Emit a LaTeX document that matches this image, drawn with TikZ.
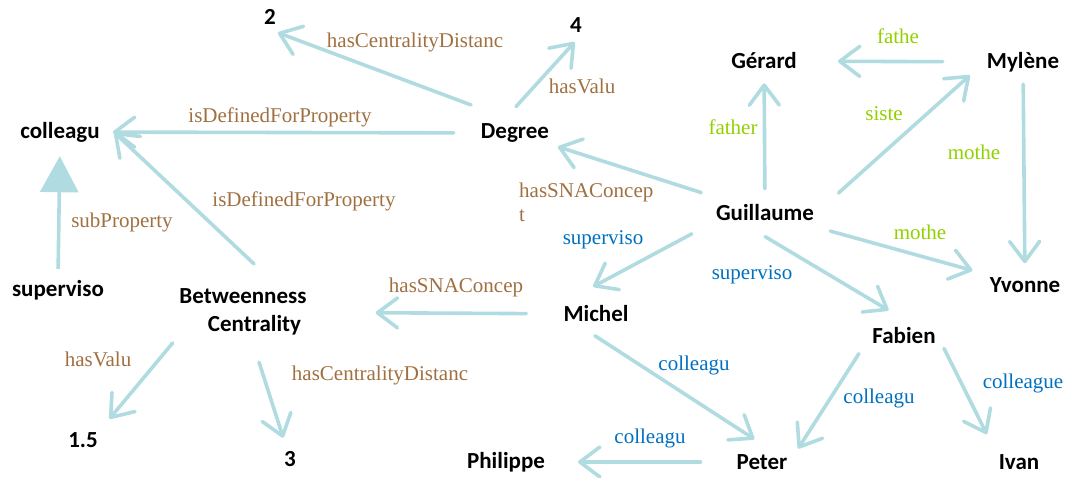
\documentclass[tikz,border=0pt]{standalone}
\usepackage{fontspec}
\setmainfont{Liberation Serif}
\newfontfamily\nodefont{Carlito}
\usetikzlibrary{arrows.meta}
\definecolor{relcol}{RGB}{176,220,225}
\definecolor{brn}{RGB}{160,112,64}
\definecolor{grn}{RGB}{146,208,0}
\definecolor{blu}{RGB}{0,112,192}
\tikzset{>/.tip={Straight Barb[round,length=20pt,width=30pt]},
  ent/.style={font=\nodefont\bfseries\fontsize{23}{28}\selectfont, inner sep=2pt},
  rel/.style={draw=relcol, line width=3.6pt, line cap=round, ->},
  sub/.style={draw=relcol, line width=3.6pt, -{Triangle[length=36pt,width=38pt]}},
  lbl/.style={font=\fontsize{21}{24}\selectfont, inner sep=0pt},
  lb/.style={lbl, text=brn},
  lg/.style={lbl, text=grn},
  lu/.style={lbl, text=blu}}

\begin{document}
\begin{tikzpicture}[x=1pt,y=-1pt]
\useasboundingbox (0,0) rectangle (1075,478);
% entities
\node[ent] (two)   at (270,17)  {2};
\node[ent] (four)  at (576,25)  {4};
\node[ent] (coll)  at (60,132)  {colleagu};
\node[ent] (deg)   at (515,133) {Degree};
\node[ent] (ger)   at (764,61)  {Gérard};
\node[ent] (myl)   at (1023,62) {Mylène};
\node[ent] (gui)   at (765,213) {Guillaume};
\node[ent] (sup)   at (58,290)  {superviso};
\node[ent, align=center] (btw) at (243,312) {Betweenness\\\hspace*{1em}Centrality};
\node[ent] (mic)   at (596,314) {Michel};
\node[ent] (yvo)   at (1025,285) {Yvonne};
\node[ent] (fab)   at (904,336) {Fabien};
\node[ent] (one5)  at (83,440)  {1.5};
\node[ent] (three) at (290,459) {3};
\node[ent] (phi)   at (506,462) {Philippe};
\node[ent] (pet)   at (762,462) {Peter};
\node[ent] (iva)   at (1019,462) {Ivan};
% relations
\draw[rel, shorten <=47pt, shorten >=17pt] (deg.north) to (two.south west);
\draw[rel, shorten <=20pt, shorten >=14pt] (deg.137) to (four.-40);
\draw[rel, shorten <=25pt, shorten >=11pt] (deg) to (coll);
\draw[rel, shorten <=33pt, shorten >=17pt] (btw.36) to (coll.15);
\draw[sub, shorten <=9pt, shorten >=12pt] (sup.north) to (coll.south);
\draw[rel, shorten <=33pt, shorten >=7pt] (gui) to (deg.south east);
\draw[rel, shorten <=14pt, shorten >=12pt] (gui) to (ger);
\draw[rel, shorten <=30pt, shorten >=20pt] (gui.east) to (myl.west);
\draw[rel, shorten <=42pt, shorten >=39pt] (myl) to (ger);
\draw[rel, shorten <=10pt, shorten >=12pt] (myl) to (yvo);
\draw[rel, shorten <=29pt, shorten >=18pt] (gui) to (yvo);
\draw[rel, shorten <=25pt, shorten >=36pt] (gui.190) to (mic.north west);
\draw[rel, shorten <=26pt, shorten >=30pt] (gui.205) to (fab.45);
\draw[rel, shorten <=35pt, shorten >=67pt] (mic) to (btw);
\draw[rel, shorten <=7pt, shorten >=15pt] (btw.south west) to (one5.north east);
\draw[rel, shorten <=26pt, shorten >=12pt] (btw) to (three);
\draw[rel, shorten <=40pt, shorten >=42pt] (mic.west) to (pet.east);
\draw[rel, shorten <=21pt, shorten >=16pt] (fab.west) to (pet.east);
\draw[rel, shorten <=14pt, shorten >=22pt] (fab.east) to (iva.160);
\draw[rel, shorten <=34pt, shorten >=31pt] (pet) to (phi);
% labels
\node[lb] (l1)  at (415,42)  {hasCentralityDistanc};
\node[lb] (l2)  at (582,86)  {hasValu};
\node[lb] (l3)  at (280,117) {isDefinedForProperty};
\node[lb] (l4)  at (304,201) {isDefinedForProperty};
\node[lb, align=left, anchor=west] (l5) at (519,202) {hasSNAConcep\\t};
\node[lb] (l6)  at (122,222) {subProperty};
\node[lb] (l7)  at (456,287) {hasSNAConcep};
\node[lb] (l8)  at (98,359)  {hasValu};
\node[lb] (l9)  at (380,375) {hasCentralityDistanc};
\node[lg] (l10) at (733,127) {father};
\node[lg] (l11) at (898,36)  {fathe};
\node[lg] (l12) at (884,114) {siste};
\node[lg] (l13) at (974,152) {mothe};
\node[lg] (l14) at (920,232) {mothe};
\node[lu] (l15) at (603,240) {superviso};
\node[lu] (l16) at (752,275) {superviso};
\node[lu] (l17) at (694,365) {colleagu};
\node[lu] (l18) at (879,398) {colleagu};
\node[lu] (l19) at (1023,383) {colleague};
\node[lu] (l20) at (650,438) {colleagu};
\end{tikzpicture}
\end{document}
